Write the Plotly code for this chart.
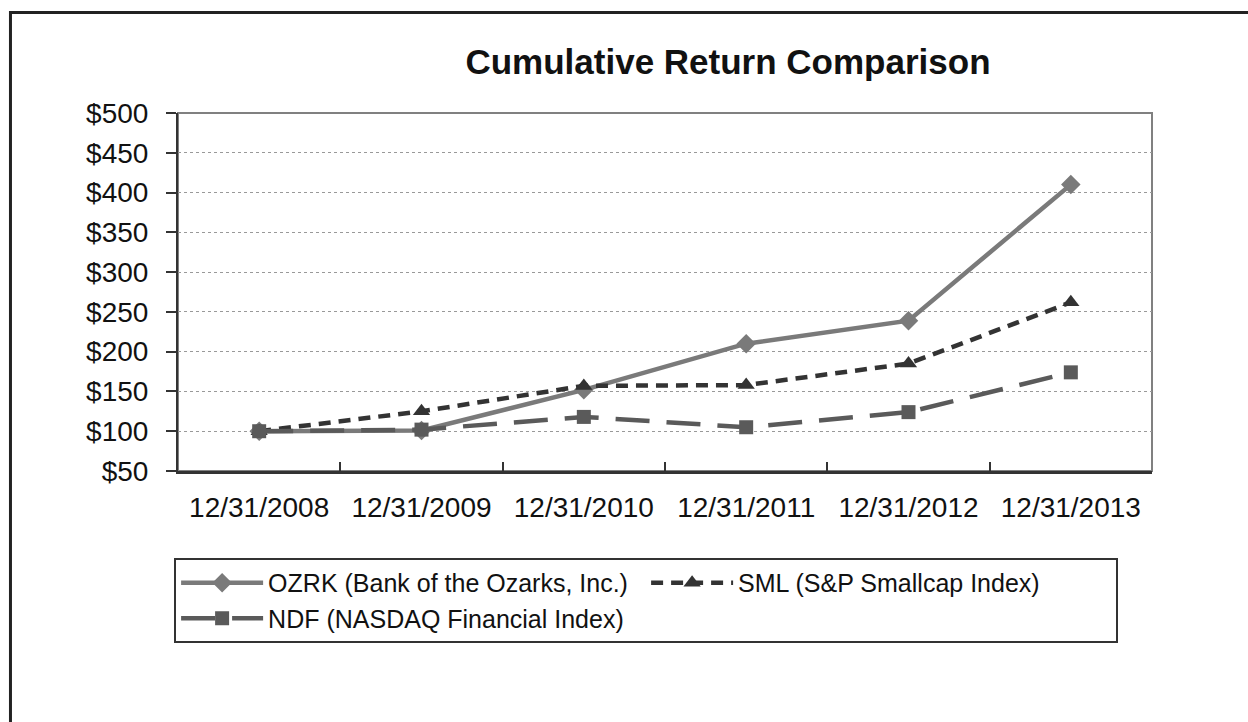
import plotly.graph_objects as go

categories = ["12/31/2008", "12/31/2009", "12/31/2010", "12/31/2011", "12/31/2012", "12/31/2013"]
ozrk = [100, 101, 152, 210, 239, 410]
sml = [100, 125, 157, 158, 185, 262]
ndf = [100, 102, 118, 105, 124, 174]
names = ["OZRK (Bank of the Ozarks, Inc.)", "SML (S&P Smallcap Index)", "NDF (NASDAQ Financial Index)"]
y_ticks = [50, 100, 150, 200, 250, 300, 350, 400, 450, 500]
y_labels = ["$" + str(v) for v in y_ticks]

FONT = "Liberation Sans, Arial, sans-serif"

fig = go.Figure()
fig.add_trace(go.Scatter(x=categories, y=ozrk, name=names[0], mode="lines+markers",
                         line=dict(color="#7a7a7a", width=4.5),
                         marker=dict(symbol="diamond", size=15, color="#7a7a7a")))
fig.add_trace(go.Scatter(x=categories, y=sml, name=names[1], mode="lines+markers",
                         line=dict(color="#333333", width=4.5, dash="12px,8px"),
                         marker=dict(symbol="triangle-up", size=15, color="#333333")))
fig.add_trace(go.Scatter(x=categories, y=ndf, name=names[2], mode="lines+markers",
                         line=dict(color="#5a5a5a", width=4.5, dash="34px,17px"),
                         marker=dict(symbol="square", size=14, color="#5a5a5a")))

fig.update_layout(
    width=1248, height=722, autosize=False,
    margin=dict(l=178, r=96, t=113, b=251),
    paper_bgcolor="white", plot_bgcolor="white",
    font=dict(family=FONT, color="#111111"),
    title=dict(text="<b>Cumulative Return Comparison</b>", x=(728 - 178) / 974, xref="paper",
               xanchor="center", y=1 - 62 / 722, yanchor="middle",
               font=dict(size=35, family=FONT, color="#111111")),
    showlegend=True,
    legend=dict(orientation="h", x=-0.004, xanchor="left", y=-0.243, yanchor="top",
                bordercolor="#333333", borderwidth=2, entrywidth=373,
                font=dict(size=25, family=FONT, color="#111111"),
                itemwidth=82, traceorder="normal"),
    shapes=[
        dict(type="rect", xref="paper", yref="paper", x0=0, x1=1, y0=0, y1=1,
             line=dict(color="#808080", width=2), layer="below"),
        dict(type="rect", xref="paper", yref="paper", x0=-0.172, x1=1.3, y0=-1.0, y1=1.2807,
             line=dict(color="#222222", width=3), layer="below"),
    ],
)

fig.update_xaxes(type="category", range=[-0.5, 5.5], showgrid=False,
                 showline=True, linecolor="#333333", linewidth=3,
                 ticks="inside", tickson="boundaries", ticklen=9, tickcolor="#333333",
                 tickwidth=2, tickfont=dict(size=28, family=FONT, color="#111111"),
                 ticklabelstandoff=9)
fig.update_yaxes(range=[50, 500], tickvals=y_ticks, ticktext=y_labels,
                 showgrid=True, gridcolor="#999999", griddash="dot", gridwidth=1,
                 showline=True, linecolor="#333333", linewidth=2,
                 ticks="outside", ticklen=10, tickcolor="#333333", tickwidth=2,
                 tickfont=dict(size=28, family=FONT, color="#111111"),
                 ticklabelstandoff=12, zeroline=False)

fig.write_html("out.html", config={"displayModeBar": False},
               post_script="document.body.style.margin='0';document.body.style.padding='0';")
